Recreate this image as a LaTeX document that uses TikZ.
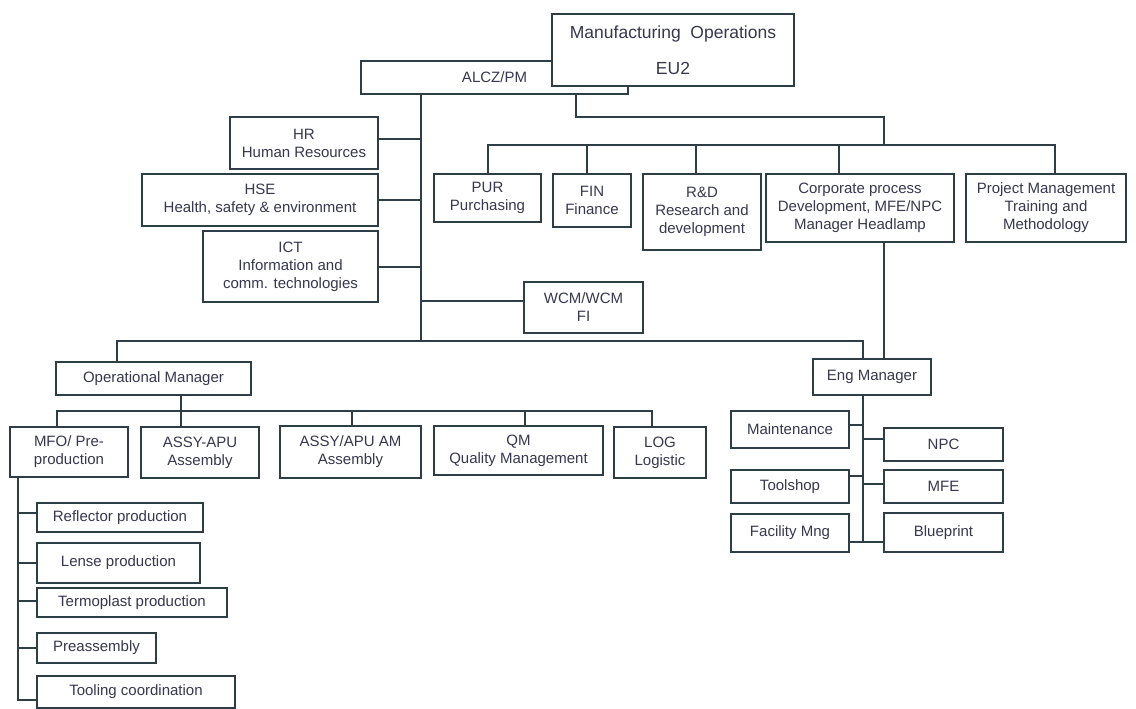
\documentclass[tikz,border=0pt]{standalone}
\usepackage{fontspec}
\setmainfont{Liberation Sans}
\definecolor{lc}{RGB}{45,62,70}
\definecolor{tc}{RGB}{55,55,80}
\begin{document}
\begin{tikzpicture}[x=1pt,y=-1pt,
  obox/.style={draw=lc,line width=2pt,fill=white,text=tc,inner sep=0pt,align=center,
    font=\fontsize{15}{18}\selectfont},
  ln/.style={draw=lc,line width=2pt}]
\useasboundingbox (0,0) rectangle (1136,709);
% junction coordinates
\coordinate (tA) at (421,341);
\coordinate (omL) at (117,341);
\coordinate (engL) at (863,341);
\coordinate (rb) at (576,117);
\coordinate (rc) at (884,117);
\coordinate (busL) at (488,145);
\coordinate (busR) at (1055,145);
\coordinate (dFin) at (587,145);
\coordinate (dRd) at (696,145);
\coordinate (dCorp) at (839,145);
\coordinate (ob1) at (57,411);
\coordinate (ob2) at (652,411);
\coordinate (omv) at (181,411);
\coordinate (dAM) at (352,411);
\coordinate (dQM) at (525,411);
\coordinate (engB) at (863,542);
\coordinate (mfoT) at (18,700);
% nodes
\node[obox,minimum width=267,minimum height=33] (alcz) at (494.5,77.5) {ALCZ/PM};
\node[obox,minimum width=242,minimum height=72,font=\fontsize{17.5}{20}\selectfont] (title) at (673,50) {Manufacturing\ \ Operations\\[16pt]EU2};
\node[obox,minimum width=148,minimum height=52] (hr) at (304,143) {HR\\Human Resources};
\node[obox,minimum width=236,minimum height=52] (hse) at (260,200) {HSE\\Health, safety \& environment};
\node[obox,minimum width=175,minimum height=71] (ict) at (290.5,266.5) {ICT\\Information and\\comm. technologies};
\node[obox,minimum width=119,minimum height=51] (wcm) at (583.5,307.5) {WCM/WCM\\FI};
\node[obox,minimum width=107,minimum height=48] (pur) at (487.5,198) {PUR\\Purchasing};
\node[obox,minimum width=78,minimum height=53] (fin) at (592,200.5) {FIN\\Finance};
\node[obox,minimum width=118,minimum height=76] (rd) at (702,212) {R\&D\\Research and\\development};
\node[obox,minimum width=188,minimum height=68] (corp) at (860,208) {Corporate process\\Development, MFE/NPC\\Manager Headlamp};
\node[obox,minimum width=160,minimum height=68] (proj) at (1046,208) {Project Management\\Training and\\Methodology};
\node[obox,minimum width=195,minimum height=33] (om) at (153.5,378.5) {Operational Manager};
\node[obox,minimum width=118,minimum height=36] (eng) at (872,377) {Eng Manager};
\node[obox,minimum width=118,minimum height=50] (mfo) at (69,452) {MFO/ Pre-\\production};
\node[obox,minimum width=118,minimum height=51] (apu) at (200,452.5) {ASSY-APU\\Assembly};
\node[obox,minimum width=141,minimum height=52] (am) at (350.5,452) {ASSY/APU AM\\Assembly};
\node[obox,minimum width=169,minimum height=49] (qm) at (518.5,450.5) {QM\\Quality Management};
\node[obox,minimum width=92,minimum height=51] (log) at (660,452.5) {LOG\\Logistic};
\node[obox,minimum width=118,minimum height=37] (maint) at (790,429.5) {Maintenance};
\node[obox,minimum width=119,minimum height=33] (npc) at (943.5,444.5) {NPC};
\node[obox,minimum width=118,minimum height=33] (tool) at (790,486.5) {Toolshop};
\node[obox,minimum width=119,minimum height=33] (mfe) at (943.5,486.5) {MFE};
\node[obox,minimum width=118,minimum height=38] (fac) at (790,533) {Facility Mng};
\node[obox,minimum width=119,minimum height=39] (blue) at (943.5,532.5) {Blueprint};
\node[obox,minimum width=166,minimum height=29] (refl) at (120,517.5) {Reflector production};
\node[obox,minimum width=163,minimum height=40] (lense) at (118.5,563) {Lense production};
\node[obox,minimum width=190,minimum height=29] (termo) at (132,602.5) {Termoplast production};
\node[obox,minimum width=119,minimum height=30] (pre) at (96.5,648) {Preassembly};
\node[obox,minimum width=198,minimum height=32] (tc) at (136,692) {Tooling coordination};
% connectors: main trunk
\draw[ln] (alcz.south -| tA) -- (tA);
\draw[ln] ([yshift=4pt]hr.east) -- ([yshift=4pt]hr.east -| tA);
\draw[ln] (hse.east) -- (hse.east -| tA);
\draw[ln] ([yshift=-0.5pt]ict.east) -- ([yshift=-0.5pt]ict.east -| tA);
\draw[ln] ([yshift=6.5pt]wcm.west) -- ([yshift=6.5pt]wcm.west -| tA);
% right branch
\draw[ln] (alcz.south -| rb) -- (rb) -- (rc) -- (rc |- busL);
\draw[ln] (pur.north -| busL) -- (busL) -- (busR) -- (proj.north -| busR);
\draw[ln] (dFin) -- (fin.north -| dFin);
\draw[ln] (dRd) -- (rd.north -| dRd);
\draw[ln] (dCorp) -- (corp.north -| dCorp);
\draw[ln] (corp.south -| rc) -- (eng.north -| rc);
% lower bus
\draw[ln] (om.north -| omL) -- (omL) -- (engL) -- (eng.north -| engL);
% operational manager
\draw[ln] (om.south -| omv) -- (apu.north -| omv);
\draw[ln] (mfo.north -| ob1) -- (ob1) -- (ob2) -- (log.north -| ob2);
\draw[ln] (dAM) -- (am.north -| dAM);
\draw[ln] (dQM) -- (qm.north -| dQM);
% eng manager
\draw[ln] (eng.south -| engL) -- (engB);
\draw[ln] ([yshift=4.5pt]maint.east) -- ([yshift=4.5pt]maint.east -| engL);
\draw[ln] ([yshift=5.5pt]npc.west) -- ([yshift=5.5pt]npc.west -| engL);
\draw[ln] ([yshift=10.5pt]tool.east) -- ([yshift=10.5pt]tool.east -| engL);
\draw[ln] ([yshift=2.5pt]mfe.west) -- ([yshift=2.5pt]mfe.west -| engL);
\draw[ln] (fac.east |- engB) -- (blue.west |- engB);
% MFO
\draw[ln] (mfo.south -| mfoT) -- (mfoT) -- (tc.west |- mfoT);
\draw[ln] ([yshift=4.5pt]refl.west) -- ([yshift=4.5pt]refl.west -| mfoT);
\draw[ln] (lense.west) -- (lense.west -| mfoT);
\draw[ln] ([yshift=1.5pt]termo.west) -- ([yshift=1.5pt]termo.west -| mfoT);
\draw[ln] (pre.west) -- (pre.west -| mfoT);
\end{tikzpicture}
\end{document}
